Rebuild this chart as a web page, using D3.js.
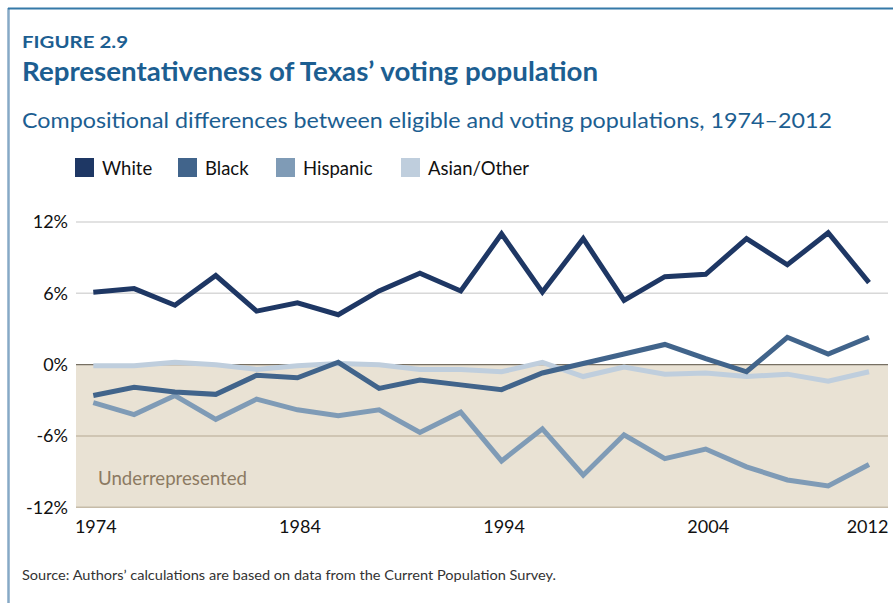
<!DOCTYPE html>
<html><head><meta charset="utf-8">
<script src="https://cdn.jsdelivr.net/npm/d3@7"></script>
<style>
html,body{margin:0;padding:0;background:#fff;}
svg{display:block;font-family:Lato,"Open Sans",sans-serif;}
</style></head>
<body><svg id="c" width="893" height="603"></svg>
<script>
const years = [1974,1976,1978,1980,1982,1984,1986,1988,1990,1992,1994,1996,1998,2000,2002,2004,2006,2008,2010,2012];
const white    = [6.1,6.4,5.0,7.5,4.5,5.2,4.2,6.2,7.7,6.2,11.0,6.1,10.6,5.4,7.4,7.6,10.6,8.4,11.1,6.9];
const black    = [-2.6,-1.9,-2.3,-2.5,-0.9,-1.1,0.2,-2.0,-1.3,-1.7,-2.1,-0.7,0.1,0.9,1.7,0.5,-0.6,2.3,0.9,2.3];
const hispanic = [-3.2,-4.2,-2.6,-4.6,-2.9,-3.8,-4.3,-3.8,-5.7,-4.0,-8.1,-5.4,-9.3,-5.9,-7.9,-7.1,-8.6,-9.7,-10.2,-8.4];
const asian    = [-0.1,-0.1,0.2,0.0,-0.4,-0.1,0.1,0.0,-0.4,-0.4,-0.6,0.2,-1.0,-0.2,-0.8,-0.7,-1.0,-0.8,-1.4,-0.6];
const seriesNames = ["White","Black","Hispanic","Asian/Other"];
const seriesColors = ["#1e3764","#41648b","#7f9bb6","#bfcedd"];
const yTicks = [12,6,0,-6,-12];
const xTickYears = [1974,1984,1994,2004,2012];

const svg = d3.select("#c");
const blue = "#1c5e91";

// frame
svg.append("line").attr("x1",8.5).attr("x2",8.5).attr("y1",8).attr("y2",603).attr("stroke","#86a9c6").attr("stroke-width",2.5);
svg.append("line").attr("x1",8).attr("x2",893).attr("y1",8.5).attr("y2",8.5).attr("stroke","#3579a8").attr("stroke-width",2);

// titles
svg.append("text").attr("x",22).attr("y",48).attr("fill",blue).attr("font-weight",700).attr("font-size",17)
  .attr("textLength",106).attr("lengthAdjust","spacingAndGlyphs").text("FIGURE 2.9");
svg.append("text").attr("x",22).attr("y",81).attr("fill",blue).attr("font-weight",700).attr("font-size",26)
  .attr("textLength",576).attr("lengthAdjust","spacingAndGlyphs").text("Representativeness of Texas’ voting population");
svg.append("text").attr("x",22).attr("y",128).attr("fill",blue).attr("font-size",22)
  .attr("textLength",810).attr("lengthAdjust","spacingAndGlyphs").text("Compositional differences between eligible and voting populations, 1974–2012");

// legend
const legX = [75,178,276,401];
const leg = svg.append("g");
seriesNames.forEach((n,i)=>{
  leg.append("rect").attr("x",legX[i]).attr("y",158).attr("width",19).attr("height",19).attr("fill",seriesColors[i]);
  leg.append("text").attr("x",legX[i]+27).attr("y",174.5).attr("font-size",18.5).attr("fill","#111").text(n);
});

// scales
const x = d3.scaleLinear().domain([1974,2012]).range([93.3,869]);
const y = d3.scaleLinear().domain([-12,12]).range([507.3,222]);
const left = 76, right = 888;

// underrepresented area
svg.append("rect").attr("x",left).attr("y",y(0)).attr("width",right-left).attr("height",y(-12)-y(0)).attr("fill","#e9e2d4");

// gridlines
svg.append("g").selectAll("line").data(yTicks).join("line")
  .attr("x1",left).attr("x2",right).attr("y1",d=>y(d)).attr("y2",d=>y(d))
  .attr("stroke",d=> d===0 ? "#777063" : (d<0 ? "#c6bba8" : "#d8d8d8"))
  .attr("stroke-width",d=> d===0?1.3:1.5);

svg.append("text").attr("x",98).attr("y",485).attr("font-size",19).attr("fill","#8c7a62")
  .attr("textLength",149).attr("lengthAdjust","spacingAndGlyphs").text("Underrepresented");

// axes labels
const yAxis = d3.axisLeft(y).tickValues(yTicks).tickSize(0).tickPadding(0).tickFormat(d=>d+"%");
const ya = svg.append("g").attr("transform",`translate(68,0)`).call(yAxis);
ya.select(".domain").remove();
ya.selectAll("text").attr("font-size",18).attr("fill","#111").attr("font-family","Lato,sans-serif");

const xAxis = d3.axisBottom(x).tickValues(xTickYears).tickSize(0).tickPadding(0).tickFormat(d3.format("d"));
const xa = svg.append("g").attr("transform",`translate(2,519)`).call(xAxis);
xa.select(".domain").remove();
xa.selectAll("text").attr("font-size",18).attr("fill","#111").attr("font-family","Lato,sans-serif").attr("dy","0.75em");
xa.selectAll(".tick").filter(d=>d===2012).select("text").attr("dx",-4);

// lines
const data = [white,black,hispanic,asian];
const line = d3.line().x((d,i)=>x(years[i])).y(d=>y(d));
[3,2,1,0].forEach(i=>{
  svg.append("path").datum(data[i]).attr("d",line).attr("fill","none")
    .attr("stroke",seriesColors[i]).attr("stroke-width",5).attr("stroke-linejoin","miter").attr("stroke-miterlimit",4);
});

// source
svg.append("text").attr("x",22).attr("y",580).attr("font-size",14).attr("fill","#333")
  .attr("textLength",534).attr("lengthAdjust","spacingAndGlyphs")
  .text("Source: Authors’ calculations are based on data from the Current Population Survey.");
</script></body></html>
